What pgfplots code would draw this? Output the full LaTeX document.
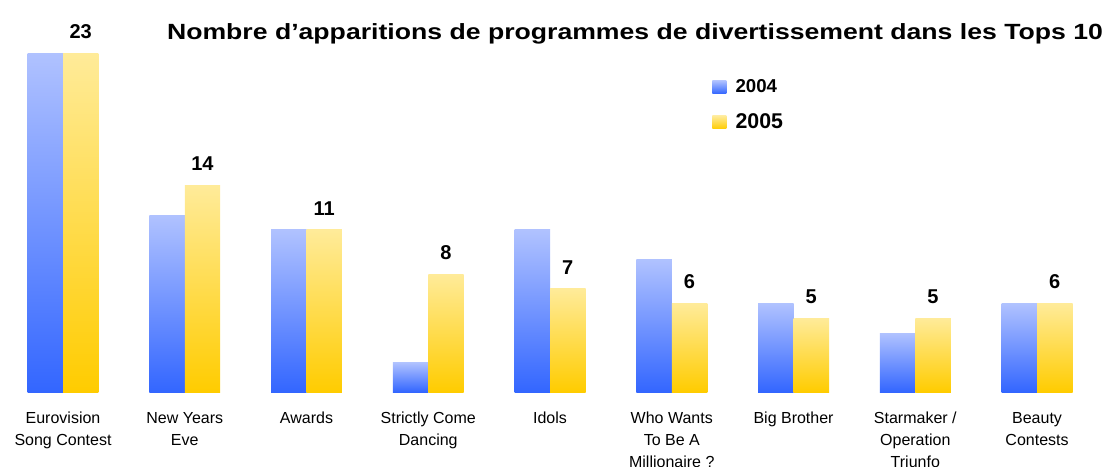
\documentclass[border=0pt]{standalone}
\usepackage{fontspec}
\setmainfont{Liberation Sans}
\usepackage{pgfplots}
\pgfplotsset{compat=1.18}
\definecolor{bTop}{RGB}{176,194,255}
\definecolor{bBot}{RGB}{51,102,255}
\definecolor{yTop}{RGB}{255,235,153}
\definecolor{yBot}{RGB}{255,204,0}
\pgfplotsset{
 b04/.style={draw=none, top color=bTop, bottom color=bBot, bar shift=-13.3pt, forget plot},
 b05/.style={draw=none, top color=yTop, bottom color=yBot, bar shift=13.3pt, forget plot,
   nodes near coords, every node near coord/.append style={text=black, font=\bfseries\fontsize{15}{18}\selectfont, yshift=7.5pt}},
}
\begin{document}
\begin{tikzpicture}
\begin{axis}[
 at={(0,0)}, anchor=south west,
 scale only axis, width=831.75pt, height=294pt,
 xmin=-0.5175, xmax=8.591, ymin=0, ymax=26.6,
 ybar=0pt, bar width=26.6pt,
 /pgf/number format/assume math mode=true,
 axis line style={draw=none},
 major tick length=0pt,
 ytick=\empty,
 xtick={0,...,8},
 xticklabels={{Eurovision\\Song Contest},{New Years\\Eve},{Awards},{Strictly Come\\Dancing},{Idols},{Who Wants\\To Be A\\Millionaire ?},{Big Brother},{Starmaker /\\Operation\\Triunfo},{Beauty\\Contests}},
 xticklabel style={align=center, font=\fontsize{12}{16.5}\selectfont, yshift=-11.5pt},
 legend style={at={(rel axis cs:0.642,0.801)}, anchor=north west, draw=none, fill=none, inner sep=0pt, row sep=12.5pt, nodes={inner sep=1pt}, /tikz/every odd column/.append style={column sep=6pt}},
 legend cell align=left,
 legend image code/.code={\path[#1] (0pt,-4.875pt) rectangle (10.5pt,4.875pt);},
 clip=false,
]
% 2004
\addplot[b04] coordinates {(0,23)};
\addplot[b04] coordinates {(1,12)};
\addplot[b04] coordinates {(2,11)};
\addplot[b04] coordinates {(3,2)};
\addplot[b04] coordinates {(4,11)};
\addplot[b04] coordinates {(5,9)};
\addplot[b04] coordinates {(6,6)};
\addplot[b04] coordinates {(7,4)};
\addplot[b04] coordinates {(8,6)};
% 2005
\addplot[b05] coordinates {(0,23)};
\addplot[b05] coordinates {(1,14)};
\addplot[b05] coordinates {(2,11)};
\addplot[b05] coordinates {(3,8)};
\addplot[b05] coordinates {(4,7)};
\addplot[b05] coordinates {(5,6)};
\addplot[b05] coordinates {(6,5)};
\addplot[b05] coordinates {(7,5)};
\addplot[b05] coordinates {(8,6)};
\addlegendimage{draw=none, top color=bTop, bottom color=bBot}
\addlegendentry{\bfseries\fontsize{14}{16}\selectfont 2004}
\addlegendimage{draw=none, top color=yTop, bottom color=yBot}
\addlegendentry{\bfseries\fontsize{16}{18}\selectfont 2005}
\node[font=\bfseries\fontsize{16.5}{19}\selectfont] at (rel axis cs:0.5726,0.913) {\scalebox{1.21}[1]{Nombre d’apparitions de programmes de divertissement dans les Tops 10}};
\end{axis}
\pgfresetboundingbox
\path[use as bounding box] (0,-56.25pt) rectangle (831.75pt,294pt);
\end{tikzpicture}
\end{document}
